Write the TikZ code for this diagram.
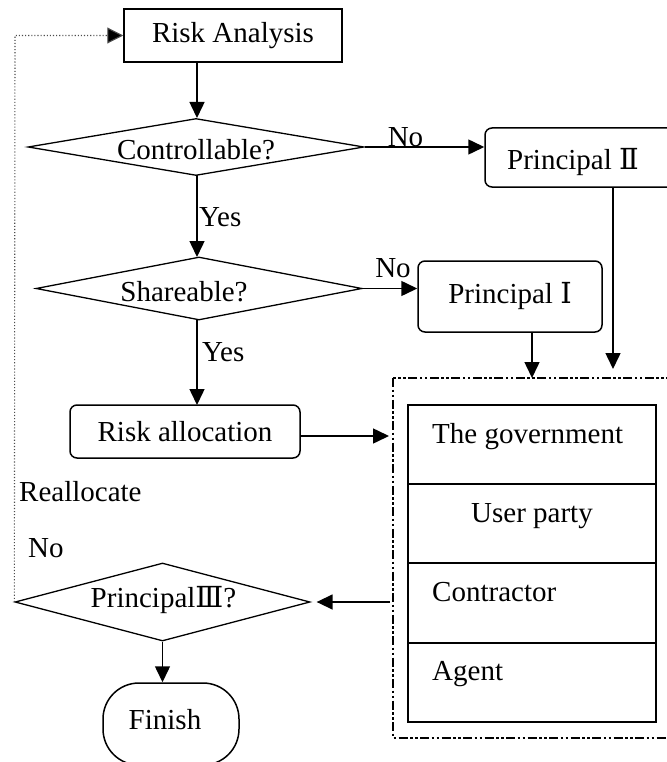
\documentclass[tikz,border=0pt]{standalone}
\usepackage{fontspec}
\setmainfont{Liberation Serif}
\newfontfamily\romfont{DejaVu Serif}
\newcommand{\romI}{{\romfont Ⅰ}}
\newcommand{\romII}{{\romfont Ⅱ}}
\newcommand{\romIII}{{\romfont Ⅲ}}
\usetikzlibrary{shapes.geometric,arrows.meta}

\tikzset{
  every node/.style={font=\fontsize{29}{31}\selectfont, inner sep=0pt},
  plainbox/.style={draw, line width=1.5pt, rectangle},
  roundbox/.style={draw, line width=1.5pt, rectangle, rounded corners=7pt},
  decision/.style={draw, line width=1.3pt, diamond, aspect=6},
  arr/.style={line width=1.5pt, -{Triangle[length=16pt,width=15pt]}},
  loopline/.style={line width=1.1pt, dotted, draw=black!70, -{Triangle[length=16pt,width=16pt,fill=black]}},
  groupframe/.style={line width=1.6pt, dash pattern=on 9pt off 2.5pt on 2.5pt off 2.5pt on 2.5pt off 2.5pt},
  cell/.style={draw, line width=1.8pt, rectangle, minimum width=248pt, minimum height=79pt},
  lbl/.style={anchor=center}
}

\begin{document}
\begin{tikzpicture}[x=1pt,y=-1pt]
\useasboundingbox (0,0) rectangle (666,762);

% main column
\node[plainbox, minimum width=218pt, minimum height=53pt] (ra) at (233,35.5) {Risk Analysis};
\node[decision, minimum width=336pt, minimum height=57pt,
      label={[yshift=-3pt]center:Controllable?}] (ctrl) at (196,147) {};
\node[decision, minimum width=326pt, minimum height=63pt,
      label={[xshift=-15pt,yshift=-3pt]center:Shareable?}] (share) at (199,288.5) {};
\node[roundbox, minimum width=230pt, minimum height=53pt] (ralloc) at (185,431.5) {Risk allocation};
\node[decision, minimum width=295pt, minimum height=78pt,
      label={[xshift=1pt,yshift=2pt]center:Principal\romIII?}] (p3) at (162.5,602) {};
\node[draw, line width=1.5pt, rectangle, rounded corners=36pt,
      minimum width=136pt, minimum height=82pt,
      label={[xshift=-6pt,yshift=4pt]center:Finish}] (fin) at (171,724) {};

% principals on the right
\node[roundbox, minimum width=195pt, minimum height=59pt,
      label={[xshift=-9.5pt,yshift=-4.5pt]center:Principal \romII}] (p2) at (582.5,157.5) {};
\node[roundbox, minimum width=184pt, minimum height=71pt] (p1) at (510,296.5) {Principal \romI};

% group of parties
\draw[groupframe] (393,378) coordinate (gtl) rectangle (690,738);
\coordinate (gleft) at (393,436);
\coordinate (gleftlow) at (390,602);
\node[cell] (gov)   at (532,444.5) {};
\node[cell] (user)  at (532,523.5) {};
\node[cell] (contr) at (532,603)   {};
\node[cell] (agent) at (532,682.5) {};
\node[anchor=base west] (tgov)   at (432,443) {The government};
\node[anchor=base]      (tuser)  at (532,522) {User party};
\node[anchor=base west] (tcontr) at (432,601) {Contractor};
\node[anchor=base west] (tagent) at (432,680) {Agent};

% flow arrows
\draw[arr] (ra.south -| 197,0) -- (197,118);
\draw[arr] (197,175) -- (197,257);
\draw[arr] (197,320) -- (197,405);
\draw[arr] (ctrl.east) -- (p2.west |- ctrl.east);
\draw[arr] (share.east) -- (p1.west |- share.east);
\draw[arr] (p2.south -| 613,0) -- (613,369);
\draw[arr] (p1.south -| 532,0) -- (532,378);
\draw[arr, shorten >=4pt] (ralloc.east |- gleft) -- (gleft);
\draw[arr, shorten >=6pt] (gleftlow) -- (p3.east);
\draw[arr] (p3.south) -- (p3.south |- fin.north);

% reallocation loop
\coordinate (loopcorner) at (15,35.5);
\draw[loopline] (p3.west) -- (loopcorner) -- (ra.west);

% branch labels
\node[lbl] (no1)  at (405.5,137) {No};
\node[lbl] (no2)  at (393,268) {No};
\node[anchor=west] (yes1) at (199,217) {Yes};
\node[anchor=west] (yes2) at (202,352) {Yes};
\node[anchor=west] (realloc) at (19,492) {Reallocate};
\node[anchor=west] (no3) at (28,548) {No};
\end{tikzpicture}
\end{document}
